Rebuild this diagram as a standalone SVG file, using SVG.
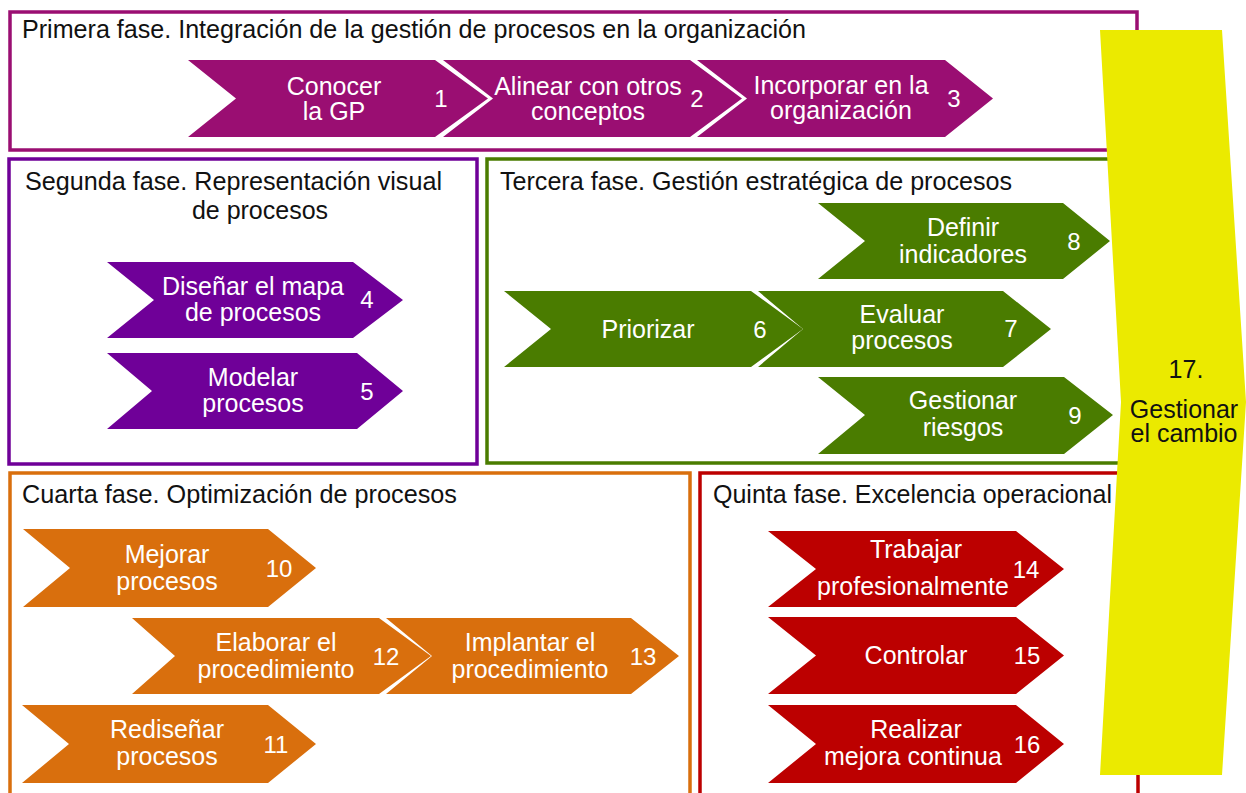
<svg xmlns="http://www.w3.org/2000/svg" width="1246" height="793" viewBox="0 0 1246 793">
<style>
text{font-family:"Liberation Sans",Arial,sans-serif;}
.ttl{font-size:25px;fill:#111;}
.lb{font-size:25px;fill:#fff;text-anchor:middle;}
.nm{font-size:24px;fill:#fff;text-anchor:middle;}
.frame{fill:#fff;stroke-width:3.5;}
.mg{fill:#9A0E72;} .pu{fill:#6F0098;} .gr{fill:#4A7C00;} .or{fill:#D96F0D;} .rd{fill:#BC0000;}
.ye{fill:#EBEA00;}
.ytx{font-size:25px;fill:#111;text-anchor:middle;}
</style>
<rect width="1246" height="793" fill="#fff"/>
<g id="panels">
<g id="fase1"><rect class="frame" x="10" y="12" width="1127" height="138" stroke="#9A0E72"/>
<text class="ttl" x="22" y="38" textLength="784" lengthAdjust="spacingAndGlyphs">Primera fase. Integración de la gestión de procesos en la organización</text></g>
<g id="fase2"><rect class="frame" x="9" y="159" width="468" height="305" stroke="#6F0098"/>
<text class="ttl" x="25" y="190" textLength="417" lengthAdjust="spacingAndGlyphs">Segunda fase. Representación visual</text>
<text class="ttl" x="260" y="219" text-anchor="middle">de procesos</text></g>
<g id="fase3"><rect class="frame" x="487" y="159" width="651" height="304" stroke="#4A7C00"/>
<text class="ttl" x="500" y="190" textLength="512" lengthAdjust="spacingAndGlyphs">Tercera fase. Gestión estratégica de procesos</text></g>
<g id="fase4"><rect class="frame" x="10" y="473" width="680" height="340" stroke="#D96F0D"/>
<text class="ttl" x="22" y="503" textLength="435" lengthAdjust="spacingAndGlyphs">Cuarta fase. Optimización de procesos</text></g>
<g id="fase5"><rect class="frame" x="700" y="473" width="438" height="340" stroke="#BC0000"/>
<text class="ttl" x="713" y="503" textLength="399" lengthAdjust="spacingAndGlyphs">Quinta fase. Excelencia operacional</text></g>
</g>
<g id="connectors"></g>
<g id="n1"><path class="mg" d="M188,60 L435,60 L488,98.5 L435,137 L188,137 L236,98.5 Z"/>
<text class="lb" x="334" y="95">Conocer</text><text class="lb" x="334" y="120">la GP</text><text class="nm" x="441" y="107">1</text></g>
<g id="n2"><path class="mg" d="M443,60 L690,60 L742,98.5 L690,137 L443,137 L493,98.5 Z"/>
<text class="lb" x="588" y="95">Alinear con otros</text><text class="lb" x="588" y="120">conceptos</text><text class="nm" x="697" y="107">2</text></g>
<g id="n3"><path class="mg" d="M697,60 L945,60 L993,98.5 L945,137 L697,137 L747,98.5 Z"/>
<text class="lb" x="841" y="94">Incorporar en la</text><text class="lb" x="841" y="119">organización</text><text class="nm" x="954" y="107">3</text></g>
<g id="n4"><path class="pu" d="M107,262 L353,262 L403,300 L353,338 L107,338 L154,300 Z"/>
<text class="lb" x="253" y="295">Diseñar el mapa</text><text class="lb" x="253" y="321">de procesos</text><text class="nm" x="367" y="308">4</text></g>
<g id="n5"><path class="pu" d="M107,353 L357,353 L403,391 L357,429 L107,429 L152,391 Z"/>
<text class="lb" x="253" y="386">Modelar</text><text class="lb" x="253" y="412">procesos</text><text class="nm" x="367" y="400">5</text></g>
<g id="n6"><path class="gr" d="M504,291 L751,291 L803,329 L751,367 L504,367 L551,329 Z"/>
<text class="lb" x="648" y="338">Priorizar</text><text class="nm" x="760" y="338">6</text></g>
<g id="n7"><path class="gr" d="M758,291 L1003,291 L1051,329 L1003,367 L758,367 L803,329 Z"/>
<text class="lb" x="902" y="323">Evaluar</text><text class="lb" x="902" y="349">procesos</text><text class="nm" x="1011" y="337">7</text></g>
<g id="n8"><path class="gr" d="M818,203 L1063,203 L1110,241 L1063,279 L818,279 L865,241 Z"/>
<text class="lb" x="963" y="236">Definir</text><text class="lb" x="963" y="263">indicadores</text><text class="nm" x="1074" y="250">8</text></g>
<g id="n9"><path class="gr" d="M818,377 L1064,377 L1113,415 L1064,454 L818,454 L865,415 Z"/>
<text class="lb" x="963" y="409">Gestionar</text><text class="lb" x="963" y="436">riesgos</text><text class="nm" x="1075" y="424">9</text></g>
<g id="n10"><path class="or" d="M23,529 L268,529 L316,568 L268,607 L23,607 L70,568 Z"/>
<text class="lb" x="167" y="563">Mejorar</text><text class="lb" x="167" y="590">procesos</text><text class="nm" x="279" y="577">10</text></g>
<g id="n11"><path class="or" d="M22,705 L268,705 L316,744 L268,783 L22,783 L69,744 Z"/>
<text class="lb" x="167" y="738">Rediseñar</text><text class="lb" x="167" y="765">procesos</text><text class="nm" x="276" y="753">11</text></g>
<g id="n12"><path class="or" d="M132,618 L379,618 L431,656 L379,694 L132,694 L175,656 Z"/>
<text class="lb" x="276" y="651">Elaborar el</text><text class="lb" x="276" y="678">procedimiento</text><text class="nm" x="386" y="665">12</text></g>
<g id="n13"><path class="or" d="M386,618 L631,618 L679,656 L631,694 L386,694 L432,656 Z"/>
<text class="lb" x="530" y="651">Implantar el</text><text class="lb" x="530" y="678">procedimiento</text><text class="nm" x="643" y="665">13</text></g>
<g id="n14"><path class="rd" d="M768,531 L1016,531 L1064,569 L1016,607 L768,607 L816,569 Z"/>
<text class="lb" x="916" y="558">Trabajar</text><text class="lb" x="913" y="595">profesionalmente</text><text class="nm" x="1026" y="578">14</text></g>
<g id="n15"><path class="rd" d="M768,617 L1016,617 L1064,655.5 L1016,694 L768,694 L816,655.5 Z"/>
<text class="lb" x="916" y="664">Controlar</text><text class="nm" x="1027" y="664">15</text></g>
<g id="n16"><path class="rd" d="M768,705 L1016,705 L1064,744 L1016,783 L768,783 L816,744 Z"/>
<text class="lb" x="916" y="738">Realizar</text><text class="lb" x="913" y="765">mejora continua</text><text class="nm" x="1027" y="753">16</text></g>
<g id="n17"><path class="ye" d="M1100,30 L1222,30 L1246,402 L1222,775 L1100,775 L1121,402 Z"/>
<text class="ytx" x="1186" y="378">17.</text><text class="ytx" x="1184" y="418">Gestionar</text><text class="ytx" x="1184" y="442">el cambio</text></g>
</svg>
